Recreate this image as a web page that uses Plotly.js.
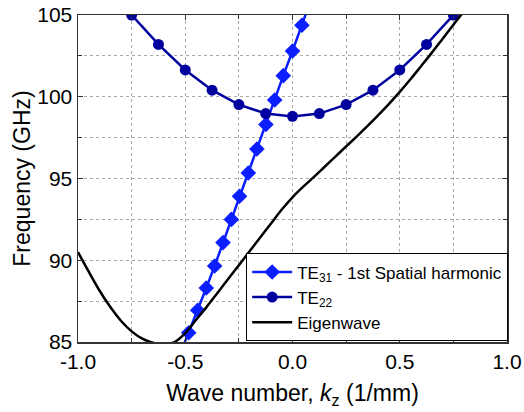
<!DOCTYPE html>
<html>
<head>
<meta charset="utf-8">
<script src="https://cdn.plot.ly/plotly-3.0.1.min.js"></script>
<style>
html,body{margin:0;padding:0;background:#fff;}
#chart{width:524px;height:412px;}
</style>
</head>
<body>
<div id="chart"></div>
<script>
// TE31 - 1st spatial harmonic (diamonds)
const te31Kz = [-0.526, -0.484, -0.442, -0.402, -0.363, -0.324, -0.285, -0.247, -0.206, -0.166, -0.124, -0.083, -0.043, 0.0, 0.044, 0.085];
const te31F  = [84.2, 85.57, 86.94, 88.3, 89.65, 91.08, 92.5, 93.91, 95.34, 96.8, 98.3, 99.8, 101.29, 102.8, 104.37, 105.9];

// TE22 (circles)
const te22Kz = [-0.875, -0.75, -0.625, -0.5, -0.375, -0.25, -0.125, 0, 0.125, 0.25, 0.375, 0.5, 0.625, 0.75, 0.875];
const te22F  = [107.0, 105.0, 103.2, 101.64, 100.4, 99.52, 98.97, 98.8, 98.97, 99.52, 100.4, 101.64, 103.2, 105.0, 107.0];

// Eigenwave (solid black)
const eigKz = [-1.0, -0.95, -0.9, -0.85, -0.8, -0.75, -0.7, -0.65, -0.6, -0.55, -0.5, -0.45, -0.4, -0.35, -0.3, -0.25, -0.2, -0.15, -0.1, -0.05, 0.0, 0.05, 0.1, 0.15, 0.2, 0.25, 0.3, 0.35, 0.4, 0.45, 0.5, 0.55, 0.6, 0.65, 0.7, 0.75, 0.8];
const eigF  = [90.5, 89.3, 88.15, 87.15, 86.3, 85.65, 85.2, 84.95, 84.85, 85.0, 85.55, 86.35, 87.15, 88.0, 88.85, 89.7, 90.55, 91.4, 92.25, 93.1, 93.85, 94.5, 95.1, 95.72, 96.34, 96.96, 97.58, 98.22, 98.88, 99.57, 100.3, 101.07, 101.88, 102.7, 103.55, 104.4, 105.25];

const seriesNames = ['TE<sub>31</sub> - 1st Spatial harmonic', 'TE<sub>22</sub>', 'Eigenwave'];
const xTickVals = [-1.0, -0.5, 0.0, 0.5, 1.0];
const xTickText = ['-1.0', '-0.5', '0.0', '0.5', '1.0'];
const yTickVals = [85, 90, 95, 100, 105];

const FONT = 'Arial, "Liberation Sans", sans-serif';

const traces = [
  {
    x: te31Kz, y: te31F, name: seriesNames[0], type: 'scatter', mode: 'lines+markers',
    line: {color: '#0a1eff', width: 2.5},
    marker: {symbol: 'diamond', size: 12, color: '#0a1eff'}
  },
  {
    x: te22Kz, y: te22F, name: seriesNames[1], type: 'scatter', mode: 'lines+markers',
    line: {color: '#00009e', width: 2.5},
    marker: {symbol: 'circle', size: 11, color: '#00009e'}
  },
  {
    x: eigKz, y: eigF, name: seriesNames[2], type: 'scatter', mode: 'lines',
    line: {color: '#000000', width: 2.5, shape: 'spline', smoothing: 1}
  }
];

const axisCommon = {
  showline: true, linecolor: '#333', linewidth: 1.5, mirror: 'ticks',
  ticks: 'inside', ticklen: 5, tickwidth: 1, tickcolor: '#333',
  showgrid: true, gridcolor: '#aaaaaa', gridwidth: 1, griddash: 'dot',
  zeroline: false,
  tickfont: {family: FONT, size: 21, color: '#000'}
};

const layout = {
  width: 524, height: 412,
  margin: {l: 78, r: 17, t: 15, b: 70},
  paper_bgcolor: '#fff', plot_bgcolor: '#fff',
  showlegend: true,
  font: {family: FONT, color: '#000'},
  xaxis: Object.assign({}, axisCommon, {
    range: [-1, 1], tickvals: xTickVals, ticktext: xTickText,
    minor: {dtick: 0.25, tick0: 0, ticks: 'inside', ticklen: 4, tickcolor: '#333', showgrid: true, gridcolor: '#aaaaaa', griddash: 'dot'},
    title: {text: 'Wave number, <i>k</i><sub>z</sub> (1/mm)', font: {family: FONT, size: 23, color: '#000'}, standoff: 13}
  }),
  yaxis: Object.assign({}, axisCommon, {
    range: [85, 105], tickvals: yTickVals,
    minor: {dtick: 2.5, tick0: 85, ticks: 'inside', ticklen: 4, tickcolor: '#333', showgrid: true, gridcolor: '#aaaaaa', griddash: 'dot'},
    title: {text: 'Frequency (GHz)', font: {family: FONT, size: 23, color: '#000'}, standoff: 0}
  }),
  legend: {
    x: 0.392, y: 0.271, xanchor: 'left', yanchor: 'top',
    bgcolor: '#fff', bordercolor: '#000', borderwidth: 1,
    font: {family: FONT, size: 17, color: '#000'},
    tracegroupgap: 0, itemwidth: 40
  }
};

Plotly.newPlot('chart', traces, layout, {staticPlot: true, displayModeBar: false});
</script>
</body>
</html>
